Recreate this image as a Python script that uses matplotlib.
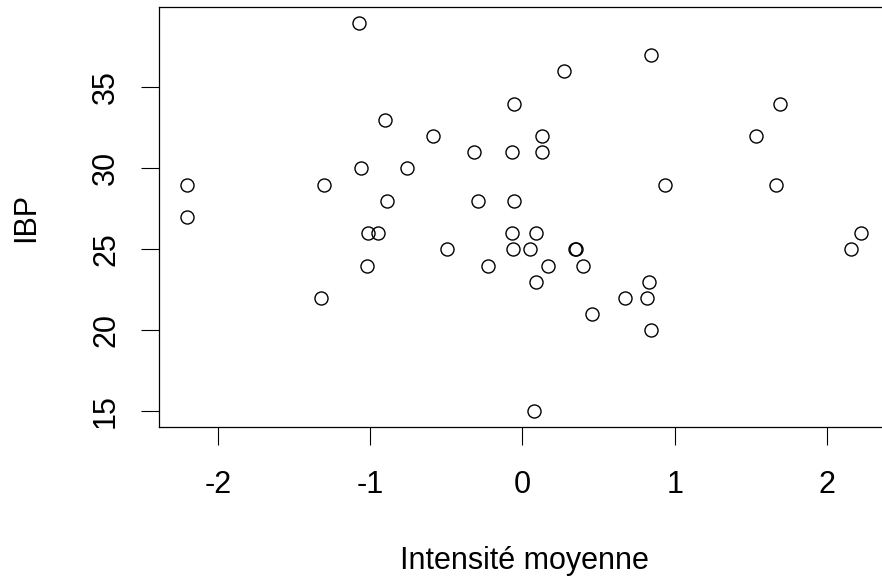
import matplotlib
matplotlib.use("Agg")
import matplotlib.pyplot as plt
from matplotlib import font_manager

# pick a narrow Arial-like face if there is one (the R plot text looks condensed)
names = {f.name for f in font_manager.fontManager.ttflist}
if 'Liberation Sans Narrow' in names:
    fam, fs = 'Liberation Sans Narrow', 25
else:
    fam, fs = 'Liberation Sans', 22
plt.rcParams.update({'font.family': fam, 'font.size': fs})

# intensite moyenne (x) and IBP (y)
intensite = [-1.076, 0.842, 0.275, -0.056, 1.691, -0.901, -0.586, 0.130, 1.533,
             -0.320, -0.071, 0.130, -1.062, -0.758, -2.201, -1.301, 0.938, 1.664,
             -0.892, -0.294, -0.056, -2.201, -1.012, -0.951, -0.071, 0.091, 2.223,
             -0.494, -0.060, 0.049, 0.345, 0.351, 2.155, -1.023, -0.227, 0.170,
             0.395, 0.089, 0.831, -1.325, 0.673, 0.817, 0.458, 0.844, 0.076]
ibp = [39, 37, 36, 34, 34, 33, 32, 32, 32,
       31, 31, 31, 30, 30, 29, 29, 29, 29,
       28, 28, 28, 27, 26, 26, 26, 26, 26,
       25, 25, 25, 25, 25, 25, 24, 24, 24,
       24, 23, 23, 22, 22, 22, 21, 20, 15]
xticks = [-2, -1, 0, 1, 2]
yticks = [15, 20, 25, 30, 35]

fig = plt.figure(figsize=(8.82, 5.88), dpi=100)
# box runs past the right edge of the picture, like the original
ax = fig.add_axes([0.1798, 0.2738, 0.8287, 0.7143])
ax.plot(intensite, ibp, linestyle='none', marker='o', markersize=9.4,
        markerfacecolor='none', markeredgecolor='black', markeredgewidth=1.0)
ax.set_xlim(-2.389, 2.41)
ax.set_ylim(14.04, 39.96)
ax.set_xticks(xticks)
ax.set_xticklabels([str(v) for v in xticks])
ax.set_yticks(yticks)
ax.set_yticklabels([str(v) for v in yticks], rotation=90, va='center')
ax.tick_params(direction='out', length=13, width=0.8, color='black')
ax.tick_params(axis='x', pad=18)
ax.tick_params(axis='y', pad=14)
for s in ax.spines.values():
    s.set_linewidth(0.9)
ax.spines['right'].set_visible(False)
ax.set_xlabel('Intensité moyenne', labelpad=33)
ax.set_ylabel('IBP', labelpad=36)

fig.savefig('out.png', dpi=100)
